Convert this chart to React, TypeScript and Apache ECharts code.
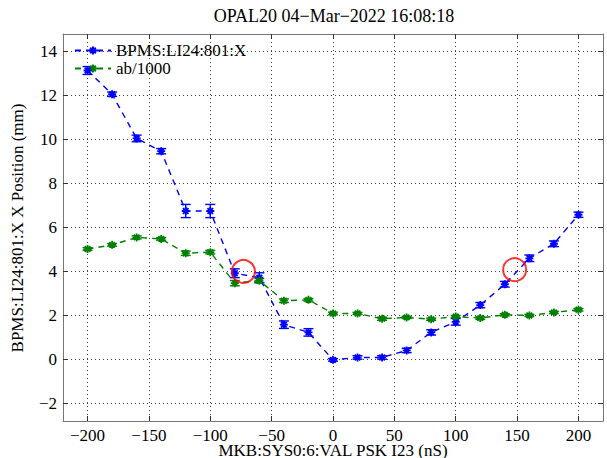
import React, { useEffect, useRef } from "react";
import * as echarts from "echarts";

// ---- data ----
const scanValues = [-200, -180, -160, -140, -120, -100, -80, -60, -40, -20, 0, 20, 40, 60, 80, 100, 120, 140, 160, 180, 200];
const bpmsX = [13.14, 12.06, 10.05, 9.47, 6.75, 6.75, 3.92, 3.72, 1.58, 1.23, -0.02, 0.09, 0.09, 0.41, 1.23, 1.71, 2.47, 3.42, 4.6, 5.26, 6.58];
const bpmsErr = [0.18, 0.1, 0.15, 0.12, 0.3, 0.3, 0.2, 0.22, 0.17, 0.17, 0.06, 0.08, 0.08, 0.1, 0.12, 0.15, 0.12, 0.13, 0.15, 0.13, 0.12];
const abDiv1000 = [5.02, 5.21, 5.55, 5.48, 4.83, 4.88, 3.47, 3.58, 2.67, 2.71, 2.09, 2.09, 1.85, 1.91, 1.83, 1.95, 1.88, 2.03, 2.0, 2.14, 2.26];
const abErr = [0.06, 0.06, 0.07, 0.06, 0.1, 0.08, 0.12, 0.1, 0.08, 0.06, 0.06, 0.05, 0.07, 0.05, 0.05, 0.05, 0.06, 0.05, 0.05, 0.05, 0.06];
const highlightPoints = [[-73, 4.0], [148, 4.08]];
const xTicks = [-200, -150, -100, -50, 0, 50, 100, 150, 200];
const yTicks = [-2, 0, 2, 4, 6, 8, 10, 12, 14];
const titleText = "OPAL20 04\u2212Mar\u22122022 16:08:18";
const xLabel = "MKB:SYS0:6:VAL PSK I23 (nS)";
const yLabel = "BPMS:LI24:801:X X Position (mm)";
const seriesNames = ["BPMS:LI24:801:X", "ab/1000"];

const FONT = "Liberation Serif";
const BLUE = "#0000ff";
const GREEN = "#008000";
const ASTERISK = "path://M0,-1L0,1M-1,0L1,0M-0.7,-0.7L0.7,0.7M-0.7,0.7L0.7,-0.7";

const fmt = (v: number) => String(v).replace("-", "\u2212");
const richFmt = (v: number) => "{s|" + fmt(v) + "}";
const serifRich = { s: { fontFamily: FONT, fontSize: 17, color: "#000" } };

function errorBarSeries(name: string, vals: number[], errs: number[], color: string) {
  return {
    name,
    type: "custom",
    xAxisIndex: 0,
    yAxisIndex: 0,
    encode: { x: 0, y: [1, 2] },
    data: scanValues.map((x, i) => [x, vals[i] - errs[i], vals[i] + errs[i]]),
    renderItem: (_params: any, api: any) => {
      const x = api.value(0);
      const p1 = api.coord([x, api.value(1)]);
      const p2 = api.coord([x, api.value(2)]);
      const hw = 5;
      const st = { stroke: color, lineWidth: 1.4 };
      return {
        type: "group",
        children: [
          { type: "line", shape: { x1: p1[0], y1: p1[1], x2: p2[0], y2: p2[1] }, style: st },
          { type: "line", shape: { x1: p1[0] - hw, y1: p1[1], x2: p1[0] + hw, y2: p1[1] }, style: st },
          { type: "line", shape: { x1: p2[0] - hw, y1: p2[1], x2: p2[0] + hw, y2: p2[1] }, style: st },
        ],
      };
    },
    z: 3,
  };
}

function lineSeries(name: string, vals: number[], color: string) {
  return {
    name,
    type: "line",
    xAxisIndex: 0,
    yAxisIndex: 0,
    data: scanValues.map((x, i) => [x, vals[i]]),
    symbol: ASTERISK,
    symbolSize: 8,
    showAllSymbol: true,
    lineStyle: { color, width: 1.4, type: [6, 5] },
    itemStyle: { color, borderColor: color, borderWidth: 1.8 },
    z: 4,
  };
}

export default function App() {
  const ref = useRef<HTMLDivElement>(null);
  useEffect(() => {
    if (!ref.current) return;
    const chart = echarts.init(ref.current, undefined, { renderer: "svg" });
    const frameLine = { show: true, onZero: false, lineStyle: { color: "#777", width: 1 } };
    const tickStyle = { color: "#333", width: 1 };
    const gridLine = { show: true, lineStyle: { color: "#444", width: 1, type: [1, 3] } };
    chart.setOption({
      animation: false,
      backgroundColor: "#fff",
      textStyle: { fontFamily: FONT },
      grid: { left: 63, right: 4, top: 34, bottom: 37 },
      graphic: [
        {
          type: "text",
          x: 334,
          y: 16,
          style: { text: titleText, fontFamily: FONT, fontSize: 18, fill: "#000", textAlign: "center", textVerticalAlign: "middle" },
        },
        {
          type: "text",
          x: 333,
          y: 450,
          style: { text: xLabel, fontFamily: FONT, fontSize: 17, fill: "#000", textAlign: "center", textVerticalAlign: "middle" },
        },
        {
          type: "text",
          x: 17,
          y: 228,
          rotation: Math.PI / 2,
          style: { text: yLabel, fontFamily: FONT, fontSize: 17, fill: "#000", textAlign: "center", textVerticalAlign: "middle" },
        },
      ],
      legend: {
        data: seriesNames,
        orient: "vertical",
        left: 74,
        top: 42,
        itemWidth: 36,
        itemHeight: 10,
        itemGap: 1,
        padding: 0,
        formatter: (name: string) => "{s|" + name + "}",
        textStyle: { fontFamily: FONT, fontSize: 17, color: "#000", lineHeight: 17, rich: serifRich },
      },
      xAxis: [
        {
          type: "value",
          min: -220,
          max: 220,
          position: "bottom",
          axisLine: frameLine,
          axisTick: { show: true, inside: true, length: 5, customValues: xTicks, lineStyle: tickStyle },
          axisLabel: { customValues: xTicks, formatter: richFmt, rich: serifRich, color: "#000", fontFamily: FONT, fontSize: 17, margin: 6 },
          splitLine: gridLine,
        },
        {
          type: "value",
          min: -220,
          max: 220,
          position: "top",
          axisLine: frameLine,
          axisTick: { show: true, inside: true, length: 5, customValues: xTicks, lineStyle: tickStyle },
          axisLabel: { show: false },
          splitLine: { show: false },
        },
      ],
      yAxis: [
        {
          type: "value",
          min: -2.8,
          max: 14.8,
          position: "left",
          axisLine: frameLine,
          axisTick: { show: true, inside: true, length: 5, customValues: yTicks, lineStyle: tickStyle },
          axisLabel: { customValues: yTicks, formatter: richFmt, rich: serifRich, color: "#000", fontFamily: FONT, fontSize: 17, margin: 6 },
          splitLine: gridLine,
        },
        {
          type: "value",
          min: -2.8,
          max: 14.8,
          position: "right",
          axisLine: frameLine,
          axisTick: { show: true, inside: true, length: 5, customValues: yTicks, lineStyle: tickStyle },
          axisLabel: { show: false },
          splitLine: { show: false },
        },
      ],
      series: [
        errorBarSeries("bpms-err", bpmsX, bpmsErr, BLUE),
        errorBarSeries("ab-err", abDiv1000, abErr, GREEN),
        lineSeries(seriesNames[0], bpmsX, BLUE),
        lineSeries(seriesNames[1], abDiv1000, GREEN),
        {
          name: "highlight",
          type: "scatter",
          xAxisIndex: 0,
          yAxisIndex: 0,
          data: highlightPoints,
          symbol: "circle",
          symbolSize: 23,
          itemStyle: { color: "rgba(0,0,0,0)", borderColor: "#ff0000", borderWidth: 2 },
          z: 5,
        },
      ],
    });
    return () => chart.dispose();
  }, []);
  return <div ref={ref} style={{ position: "fixed", left: 0, top: 0, width: 607, height: 458 }} />;
}
